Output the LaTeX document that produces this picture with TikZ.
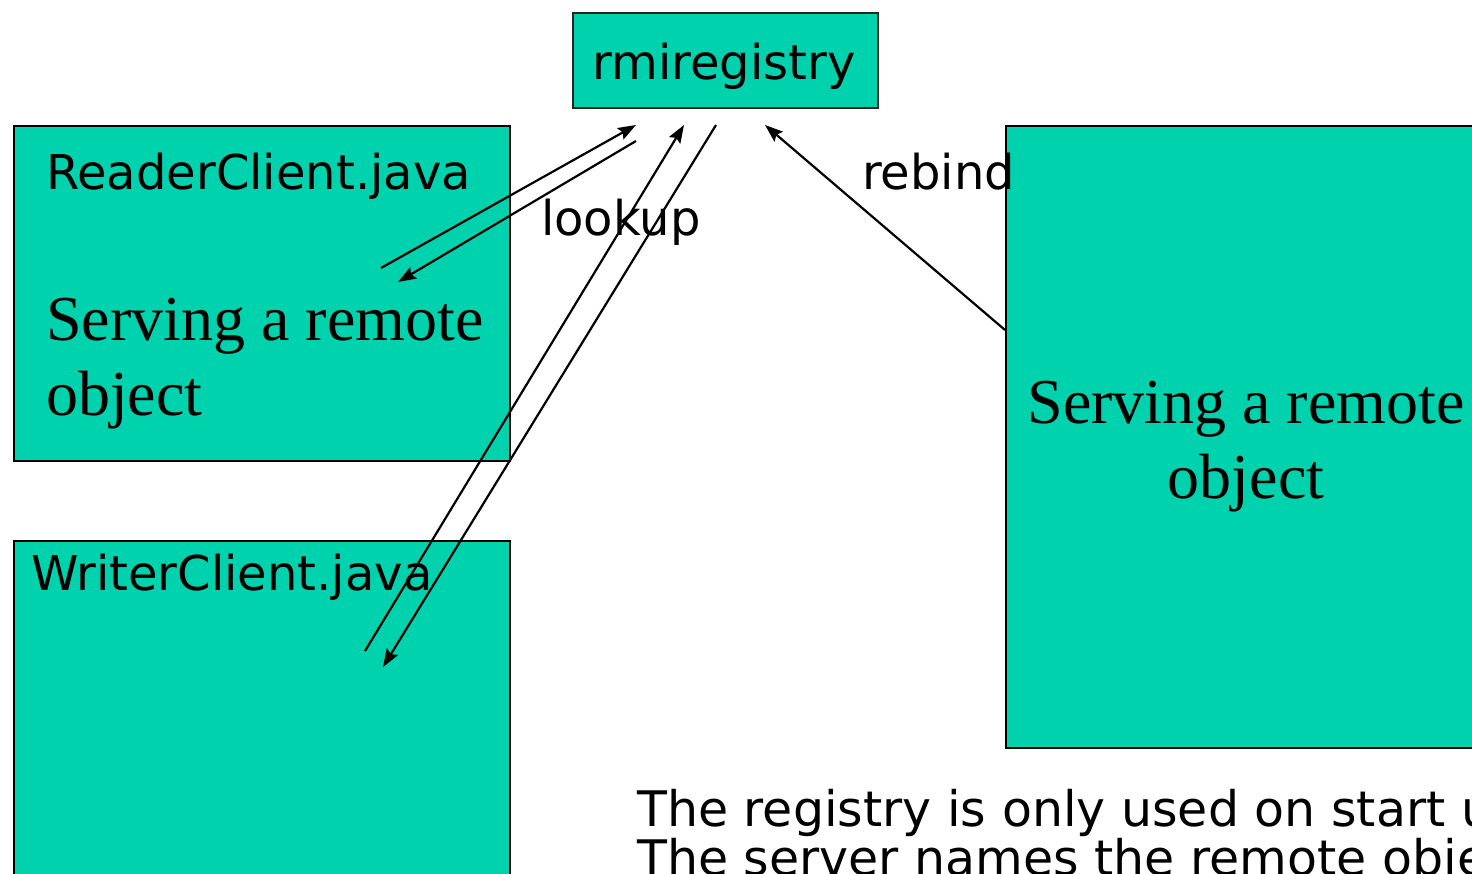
\documentclass[tikz,border=0pt]{standalone}
\usepackage{fontspec}
\setmainfont{Liberation Serif}
\setsansfont{DejaVu Sans}
\usetikzlibrary{arrows.meta}
\definecolor{boxfill}{RGB}{0,210,174}
\tikzset{
  box/.style={draw=black, line width=2pt, fill=boxfill, inner sep=0pt, anchor=north west},
  label/.style={font=\sffamily\fontsize{48}{56}\selectfont, inner sep=0pt, anchor=base west},
  serif/.style={font=\rmfamily\fontsize{64}{75}\selectfont, inner sep=0pt},
  note/.style={font=\sffamily\fontsize{49}{47}\selectfont, inner sep=0pt, anchor=base west, align=left},
  link/.style={line width=2.2pt, -{Stealth[length=18pt,width=13pt,inset=3pt]}}
}
\begin{document}
\begin{tikzpicture}[x=1pt,y=-1pt]
\useasboundingbox (0,0) rectangle (1472,874);
\clip (0,0) rectangle (1472,874);

% registry and the two client boxes
\node[box, draw=black!85, minimum width=305pt, minimum height=95pt] (reg) at (572,12) {};
\node[font=\sffamily\fontsize{48}{56}\selectfont, inner sep=0pt, anchor=base] (regtext) at (724,80) {rmiregistry};

\node[box, minimum width=496pt, minimum height=335pt] (reader) at (13,125) {};
\node[box, minimum width=496pt, minimum height=360pt] (writer) at (13,540) {};

\node[label] (readername) at (46,190) {ReaderClient.java};
% the base anchor of a two-line node sits on its last line
\node[serif, anchor=base west, align=left] (readerserv) at (46,415) {Serving a remote\\object};
\node[label] (writername) at (31,590) {WriterClient.java};

% server box
\node[box, minimum width=490pt, minimum height=622pt] (server) at (1005,125) {};
\node[serif, anchor=base, align=center] (serverserv) at (1246,498) {Serving a remote\\object};

% labels of the calls
\node[label] (lookup) at (541,236) {lookup};
\node[label] (rebind) at (862,190) {rebind};

% end points of the calls
\coordinate (r1) at (381,268);
\coordinate (g1) at (636,125);
\coordinate (g2) at (636,141);
\coordinate (r2) at (398,282);
\coordinate (w1) at (365,651);
\coordinate (g3) at (684,125);
\coordinate (g4) at (716,125);
\coordinate (w2) at (383,667);
\coordinate (s1) at (1005,330);
\coordinate (g5) at (765,125);

\draw[link] (r1) -- (g1);
\draw[link] (g2) -- (r2);
\draw[link] (w1) -- (g3);
\draw[link] (g4) -- (w2);
\draw[link] (s1) -- (g5);

% note at the bottom
\node[note] (note) at (637,875) {The registry is only used on start up\\The server names the remote object};
\end{tikzpicture}
\end{document}
